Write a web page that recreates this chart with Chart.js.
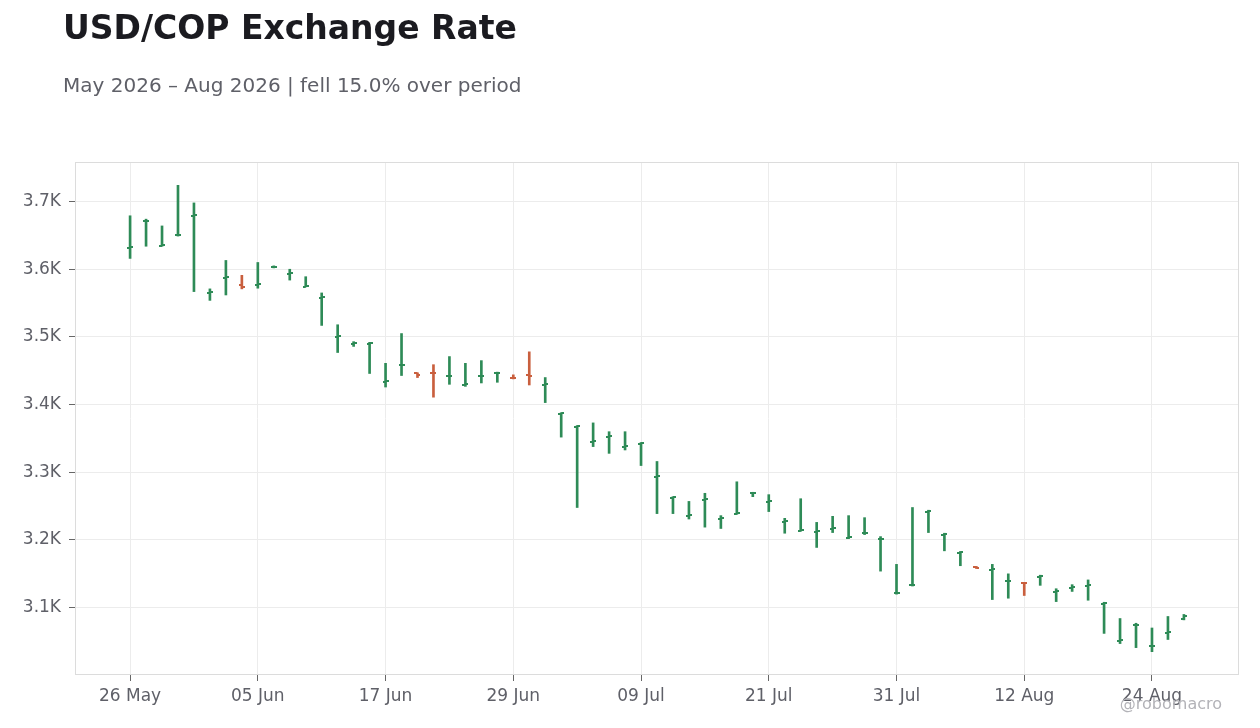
<!DOCTYPE html>
<html>
<head>
<meta charset="utf-8">
<title>USD/COP Exchange Rate</title>
<script src="https://cdn.jsdelivr.net/npm/chart.js@4.4.1/dist/chart.umd.min.js"></script>
<style>
  html, body { margin: 0; padding: 0; background: #fff; }
  #wrap { position: relative; width: 1260px; height: 728px; font-family: 'DejaVu Sans', sans-serif; }
  #chart { position: absolute; left: 0; top: 0; }
  .title { position: absolute; left: 63px; top: 11px; font-size: 33px; line-height: 1; font-weight: bold; color: #1b1b20; white-space: nowrap; }
  .subtitle { position: absolute; left: 63px; top: 75px; font-size: 20px; line-height: 1; color: #5f6068; white-space: nowrap; }
  .credit { position: absolute; right: 38px; top: 696px; font-size: 16px; line-height: 1; color: #b3b3b8; white-space: nowrap; }
</style>
</head>
<body>
<div id="wrap">
  <canvas id="chart" width="1260" height="728"></canvas>
  <div class="title">USD/COP Exchange Rate</div>
  <div class="subtitle">May 2026 – Aug 2026 | fell 15.0% over period</div>
  <div class="credit">@robomacro</div>
</div>
<script>
// trading days, May 26 - Aug 26 2026
var dates = [
  '26 May', '27 May', '28 May', '29 May',
  '01 Jun', '02 Jun', '03 Jun', '04 Jun', '05 Jun',
  '08 Jun', '09 Jun', '10 Jun', '11 Jun', '12 Jun',
  '15 Jun', '16 Jun', '17 Jun', '18 Jun', '19 Jun',
  '22 Jun', '23 Jun', '24 Jun', '25 Jun', '26 Jun',
  '29 Jun', '30 Jun', '01 Jul', '02 Jul', '03 Jul',
  '06 Jul', '07 Jul', '08 Jul', '09 Jul', '10 Jul',
  '13 Jul', '14 Jul', '15 Jul', '16 Jul', '17 Jul',
  '20 Jul', '21 Jul', '22 Jul', '23 Jul', '24 Jul',
  '27 Jul', '28 Jul', '29 Jul', '30 Jul', '31 Jul',
  '03 Aug', '04 Aug', '05 Aug', '06 Aug', '07 Aug',
  '10 Aug', '11 Aug', '12 Aug', '13 Aug', '14 Aug',
  '17 Aug', '18 Aug', '19 Aug', '20 Aug', '21 Aug',
  '24 Aug', '25 Aug', '26 Aug'
];

var open = [
  3632, 3671, 3635, 3650, 3679, 3565, 3587, 3576, 3577, 3603,
  3593, 3574, 3558, 3500, 3490, 3490, 3434, 3458, 3446, 3447,
  3442, 3429, 3442, 3446, 3440, 3444, 3429, 3386, 3367, 3345,
  3352, 3338, 3342, 3293, 3262, 3236, 3259, 3231, 3239, 3269,
  3256, 3227, 3214, 3212, 3216, 3203, 3210, 3201, 3121, 3133,
  3242, 3208, 3181, 3160, 3156, 3139, 3137, 3146, 3123, 3129,
  3132, 3106, 3051, 3074, 3043, 3063, 3083
];
var high = [
  3679, 3674, 3664, 3724, 3698, 3571, 3613, 3591, 3610, 3605,
  3600, 3589, 3565, 3518, 3493, 3492, 3461, 3505, 3447, 3459,
  3471, 3461, 3465, 3448, 3444, 3478, 3440, 3388, 3369, 3373,
  3360, 3360, 3344, 3316, 3264, 3257, 3269, 3236, 3286, 3270.5,
  3267, 3232, 3261, 3226, 3235, 3236, 3233, 3205, 3164, 3248,
  3244, 3210, 3183, 3161, 3164, 3150, 3137.5, 3148, 3128, 3134,
  3141, 3108, 3084, 3077, 3070, 3087, 3090
];
var low = [
  3616, 3634, 3634, 3649, 3567, 3554, 3562, 3571, 3572, 3602,
  3584, 3574, 3517, 3477, 3486, 3446, 3426, 3443, 3440, 3411,
  3430, 3427, 3432, 3433, 3438, 3429, 3403, 3352, 3248, 3338,
  3328, 3333, 3310, 3239, 3239, 3231, 3219, 3217, 3238, 3264,
  3242, 3210, 3213, 3189, 3211, 3202, 3208, 3154, 3120, 3132,
  3211, 3184, 3162, 3158, 3112, 3114, 3118, 3133, 3109, 3124,
  3111, 3062, 3047, 3041, 3035, 3053, 3082
];
var close = [
  3633, 3672, 3636, 3651, 3680, 3566, 3588, 3574, 3578, 3604,
  3594, 3575, 3559, 3501, 3491, 3491, 3435, 3459, 3444, 3446,
  3443, 3430, 3443, 3447, 3439, 3443, 3430, 3387, 3368, 3346,
  3353, 3339, 3343, 3294, 3263, 3237, 3260, 3232, 3240, 3270,
  3257, 3228, 3215, 3213, 3217, 3204, 3211, 3202, 3122, 3134,
  3243, 3209, 3182, 3159, 3157, 3140, 3136, 3147, 3124, 3130,
  3133, 3107, 3052, 3075, 3044, 3064, 3088
];

var upColor = '#2e8b57';
var downColor = '#c95f3e';

function tickImage(color, side) {
  var cv = document.createElement('canvas');
  cv.width = 6;
  cv.height = 2;
  var g = cv.getContext('2d');
  g.fillStyle = color;
  g.fillRect(side == 'left' ? 0 : 3, 0, 3, 2);
  return cv;
}

var colors = close.map(function (c, i) { return c >= open[i] ? upColor : downColor; });
var tickImgs = {};
[upColor, downColor].forEach(function (c) {
  tickImgs[c] = { left: tickImage(c, 'left'), right: tickImage(c, 'right') };
});

var lo = Math.min.apply(null, low);
var hi = Math.max.apply(null, high);
var pad = (hi - lo) * 0.05;

var framePlugin = {
  id: 'frame',
  beforeDatasetsDraw: function (c) {
    var a = c.chartArea;
    var ctx = c.ctx;
    ctx.save();
    ctx.strokeStyle = '#dcdcdc';
    ctx.lineWidth = 1;
    ctx.strokeRect(a.left + 0.5, a.top + 0.5, a.right - a.left - 1, a.bottom - a.top - 1);
    ctx.restore();
  }
};

var chart = new Chart(document.getElementById('chart'), {
  type: 'bar',
  data: {
    datasets: [{
      label: 'range',
      data: dates.map(function (d, i) { return { x: i, y: [low[i], high[i]] }; }),
      backgroundColor: colors,
      borderWidth: 0,
      barThickness: 2,
      grouped: false,
      order: 2
    }, {
      type: 'scatter',
      label: 'open',
      data: dates.map(function (d, i) { return { x: i, y: open[i] }; }),
      pointStyle: colors.map(function (c) { return tickImgs[c].left; }),
      pointRadius: 3,
      pointHoverRadius: 3,
      order: 1
    }, {
      type: 'scatter',
      label: 'close',
      data: dates.map(function (d, i) { return { x: i, y: close[i] }; }),
      pointStyle: colors.map(function (c) { return tickImgs[c].right; }),
      pointRadius: 3,
      pointHoverRadius: 3,
      order: 0
    }]
  },
  options: {
    responsive: false,
    animation: false,
    layout: {
      padding: { top: 162, right: 21, bottom: 0, left: 0 }
    },
    scales: {
      x: {
        type: 'linear',
        min: -3.45,
        max: 69.45,
        offset: false,
        afterFit: function (s) { s.height = 53; },
        grid: {
          offset: false,
          color: '#ececec',
          tickColor: '#666',
          tickLength: 6
        },
        border: { display: false },
        ticks: {
          stepSize: 8,
          includeBounds: false,
          padding: 5,
          color: '#5f6068',
          font: { family: 'DejaVu Sans', size: 17 },
          callback: function (v) { return dates[v]; }
        }
      },
      y: {
        min: lo - pad,
        max: hi + pad,
        afterFit: function (s) { s.width = 75; },
        grid: {
          color: '#ececec',
          tickColor: '#666',
          tickLength: 6
        },
        border: { display: false },
        ticks: {
          stepSize: 100,
          includeBounds: false,
          padding: 8,
          color: '#5f6068',
          font: { family: 'DejaVu Sans', size: 17 },
          callback: function (v) { return (v / 1000).toFixed(1) + 'K'; }
        }
      }
    },
    plugins: {
      legend: { display: false },
      tooltip: { enabled: false }
    }
  },
  plugins: [framePlugin]
});
</script>
</body>
</html>
